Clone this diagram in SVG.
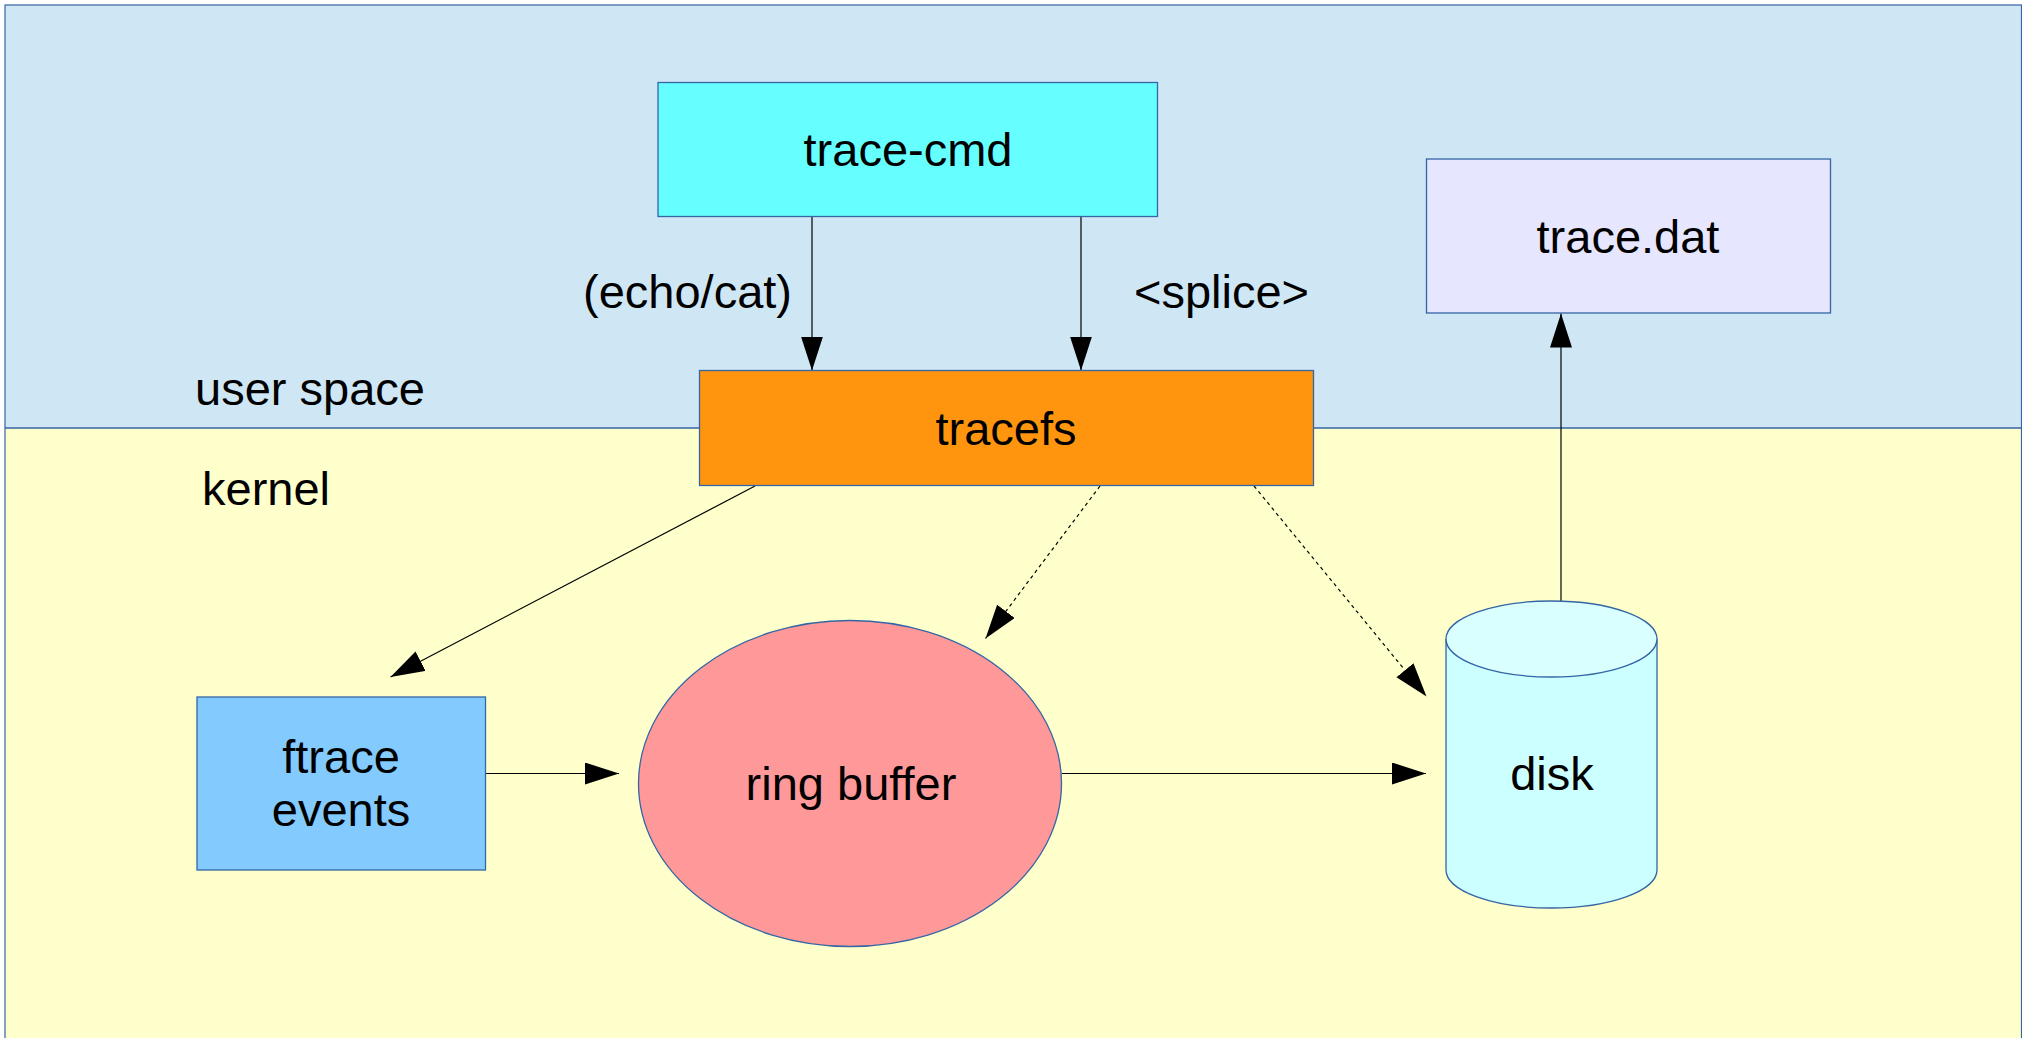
<svg xmlns="http://www.w3.org/2000/svg" width="2022" height="1038" viewBox="0 0 2022 1038">
<defs>
<style>
.box{stroke:#3465a4;stroke-width:1.3}
.lbl{font-family:"Liberation Sans",Arial,sans-serif;font-size:47px;fill:#000}
.mid{text-anchor:middle}
.conn{stroke:#000;stroke-width:1.2;fill:none}
.dash{stroke-dasharray:3.5,3.5}
</style>
<marker id="arr" markerUnits="userSpaceOnUse" markerWidth="36" markerHeight="24" refX="34" refY="11" orient="auto">
<path d="M0,0 L34,11 L0,22 z" fill="#000"/>
</marker>
</defs>
<g id="background">
<rect x="5" y="5" width="2016.5" height="423" fill="#cfe7f5"/>
<rect x="5" y="428" width="2016.5" height="640" fill="#ffffcc"/>
<rect x="5" y="5" width="2016.5" height="1100" fill="none" stroke="#3465a4" stroke-width="1.2"/>
<line x1="5" y1="428" x2="2022" y2="428" stroke="#3465a4" stroke-width="1.6"/>
<text class="lbl" x="195" y="405">user space</text>
<text class="lbl" x="202" y="505">kernel</text>
</g>
<g id="connectors">
<line class="conn" x1="812" y1="217" x2="812" y2="370.5" marker-end="url(#arr)"/>
<line class="conn" x1="1081" y1="217" x2="1081" y2="370.5" marker-end="url(#arr)"/>
<line class="conn" x1="1561" y1="601" x2="1561" y2="313.5" marker-end="url(#arr)"/>
<line class="conn" x1="755" y1="486" x2="390.5" y2="677" marker-end="url(#arr)"/>
<line class="conn dash" x1="1100" y1="486" x2="985.5" y2="638.5" marker-end="url(#arr)"/>
<line class="conn dash" x1="1254" y1="486" x2="1426.5" y2="696.5" marker-end="url(#arr)"/>
<line class="conn" x1="486" y1="773.5" x2="619" y2="773.5" stroke="#555" marker-end="url(#arr)"/>
<line class="conn" x1="1062" y1="773.5" x2="1426" y2="773.5" stroke="#555" marker-end="url(#arr)"/>
<text class="lbl" x="583" y="308">(echo/cat)</text>
<text class="lbl" x="1134" y="308">&lt;splice&gt;</text>
</g>
<g id="trace-cmd">
<rect class="box" x="658" y="82.5" width="499.5" height="134" fill="#66ffff"/>
<text class="lbl mid" x="908" y="166">trace-cmd</text>
</g>
<g id="tracefs">
<rect class="box" x="699.5" y="370.5" width="614" height="115" fill="#ff950e"/>
<text class="lbl mid" x="1006" y="445">tracefs</text>
</g>
<g id="trace-dat">
<rect class="box" x="1426.5" y="159" width="404" height="154" fill="#e6e6ff"/>
<text class="lbl mid" x="1628" y="253">trace.dat</text>
</g>
<g id="ftrace-events">
<rect class="box" x="197" y="697" width="288.5" height="173" fill="#83caff"/>
<text class="lbl mid" x="341" y="773">ftrace</text>
<text class="lbl mid" x="341" y="826">events</text>
</g>
<g id="ring-buffer">
<ellipse class="box" cx="850" cy="783.5" rx="211.5" ry="163" fill="#ff9999" stroke-width="1"/>
<text class="lbl mid" x="851" y="800">ring buffer</text>
</g>
<g id="disk">
<path class="box" d="M1446,639 L1446,870 A105.5,38 0 0 0 1657,870 L1657,639" fill="#ccffff" stroke-width="1"/>
<ellipse class="box" cx="1551.5" cy="639" rx="105.5" ry="38" fill="#d9ffff" stroke-width="1"/>
<text class="lbl mid" x="1552" y="790">disk</text>
</g>
</svg>
